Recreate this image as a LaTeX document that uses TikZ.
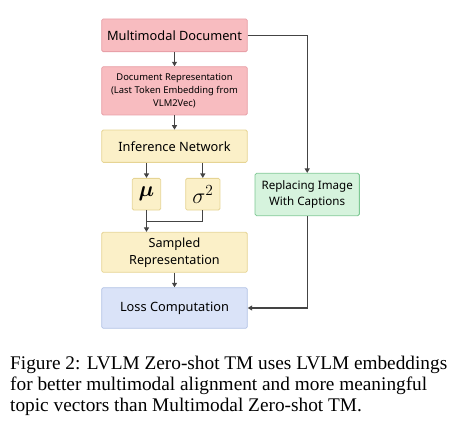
\RequirePackage{fix-cm}
\documentclass[tikz,border=0pt]{standalone}
\usepackage{amsmath}
\usepackage{fontspec}
\setmainfont{Liberation Serif}
\newfontfamily\boxfont{Noto Sans}
\usetikzlibrary{arrows.meta}
\definecolor{pinkfill}{HTML}{F8BCC0}
\definecolor{pinkline}{HTML}{E8A0A8}
\definecolor{yellowfill}{HTML}{FBF0C8}
\definecolor{yellowline}{HTML}{E6D494}
\definecolor{greenfill}{HTML}{D6F3DD}
\definecolor{greenline}{HTML}{7DC893}
\definecolor{bluefill}{HTML}{DAE3F8}
\definecolor{blueline}{HTML}{B4C3E6}
\definecolor{linkgray}{HTML}{444444}
\begin{document}
\begin{tikzpicture}[
    x=1pt,
    y=-1pt,
    box/.style={draw, rounded corners=1.5pt, line width=0.8pt, inner sep=0pt,
      align=center, font=\boxfont\fontsize{12.8}{16}\selectfont},
    pinkbox/.style={box, draw=pinkline, fill=pinkfill},
    yellowbox/.style={box, draw=yellowline, fill=yellowfill},
    link/.style={draw=linkgray, line width=1.1pt, -{Triangle[length=4.5pt,width=5pt]}}
  ]
    \useasboundingbox (0,0) rectangle (457,428);
    \node[pinkbox, minimum width=145.6pt, minimum height=32.7pt] (doc) at (174.5,35.3) {Multimodal Document};
    \node[pinkbox, minimum width=145.6pt, minimum height=48.3pt,
      font=\boxfont\fontsize{9.4}{13}\selectfont] (repr) at (174.5,90.8)
      {Document Representation\\(Last Token Embedding from\\VLM2Vec)};
    \node[yellowbox, minimum width=145.6pt, minimum height=32.3pt] (infer) at (174.5,146.2) {Inference Network};
    \node[yellowbox, minimum width=28.4pt, minimum height=31.7pt, font=\fontsize{22}{24}\selectfont] (mu) at (146.5,194.2) {$\boldsymbol{\mu}$};
    \node[yellowbox, minimum width=34.3pt, minimum height=31.7pt, font=\fontsize{22}{24}\selectfont] (sigma) at (202.8,194.2) {$\sigma^2$};
    \node[box, draw=greenline, fill=greenfill, minimum width=104.3pt, minimum height=42.4pt,
      font=\boxfont\fontsize{11.6}{16.5}\selectfont] (capt) at (307.2,194.5) {Replacing Image\\With Captions};
    \node[yellowbox, minimum width=145.6pt, minimum height=40pt,
      font=\boxfont\fontsize{12.6}{17}\selectfont] (sampled) at (174.5,252.3) {Sampled\\Representation};
    \node[box, draw=blueline, fill=bluefill, minimum width=145.6pt, minimum height=40.6pt] (loss) at (174.5,308) {Loss Computation};
    \coordinate (merge) at (146.5,221.7);
    \draw[link] (doc) -- (repr);
    \draw[link] (repr) -- (infer);
    \draw[link] (mu.north |- infer.south) -- (mu);
    \draw[link] (sigma.north |- infer.south) -- (sigma);
    \draw[draw=linkgray, line width=1.1pt] (mu.south) -- (merge);
    \draw[draw=linkgray, line width=1.1pt] (sigma.south) |- (merge);
    \draw[link] (merge) -- (merge |- sampled.north);
    \draw[link] (sampled) -- (loss);
    \draw[link] (doc.east) -| (capt.north);
    \draw[link] (capt.south) |- (loss.east);
    % caption
    \node[anchor=base west, inner sep=0pt, font=\fontsize{19.3}{21}\selectfont] (line1) at (10,369) {Figure 2: LVLM Zero-shot TM uses LVLM embeddings};
    \node[anchor=base west, inner sep=0pt, font=\fontsize{19.3}{21}\selectfont] (line2) at (10,390) {for better multimodal alignment and more meaningful};
    \node[anchor=base west, inner sep=0pt, font=\fontsize{19.3}{21}\selectfont] (line3) at (10,411) {topic vectors than Multimodal Zero-shot TM.};
  \end{tikzpicture}
\end{document}
